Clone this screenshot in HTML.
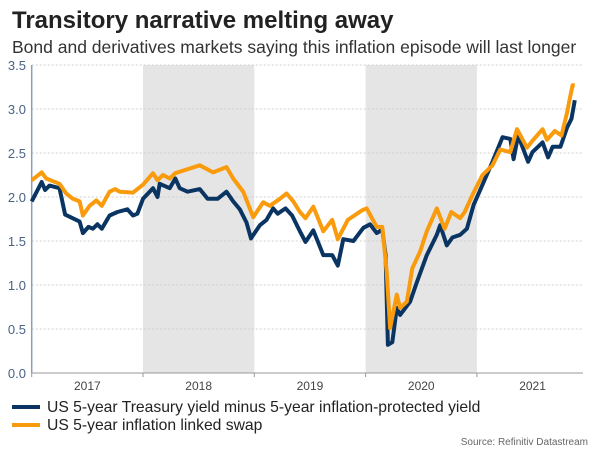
<!DOCTYPE html>
<html><head><meta charset="utf-8"><style>
body{margin:0;background:#fff;font-family:"Liberation Sans",sans-serif}
#c{position:relative;width:600px;height:450px;overflow:hidden}
</style></head><body>
<div id="c">
<svg id="s" width="600" height="450"></svg>
</div>
<script>
const yTicks=[0,0.5,1,1.5,2,2.5,3,3.5];
const yearLabels=["2017","2018","2019","2020","2021"];
const shadedYears=[2018,2020];
const blueDates=[0,.09,.12,.16,.25,.30,.43,.46,.51,.55,.59,.63,.70,.77,.86,.91,.95,1.00,1.09,1.13,1.15,1.24,1.29,1.33,1.40,1.51,1.58,1.67,1.75,1.81,1.87,1.93,1.97,2.05,2.11,2.17,2.21,2.28,2.34,2.41,2.46,2.53,2.62,2.70,2.75,2.80,2.89,2.98,3.04,3.10,3.15,3.18,3.20,3.24,3.28,3.31,3.40,3.46,3.55,3.64,3.67,3.73,3.78,3.85,3.91,3.97,4.05,4.14,4.23,4.30,4.33,4.37,4.46,4.50,4.59,4.64,4.68,4.75,4.81,4.85,4.88];
const blueValues=[1.95,2.17,2.08,2.13,2.10,1.80,1.72,1.59,1.66,1.64,1.69,1.64,1.79,1.83,1.86,1.79,1.81,1.98,2.10,2.00,2.15,2.10,2.21,2.10,2.06,2.09,1.98,1.98,2.06,1.95,1.86,1.71,1.53,1.68,1.74,1.87,1.81,1.87,1.79,1.61,1.49,1.62,1.34,1.34,1.22,1.52,1.50,1.65,1.69,1.59,1.63,1.34,0.32,0.35,0.74,0.66,0.81,1.03,1.34,1.57,1.68,1.45,1.54,1.57,1.64,1.91,2.14,2.40,2.68,2.66,2.43,2.70,2.40,2.51,2.62,2.45,2.57,2.57,2.79,2.89,3.10];
const orangeDates=[0,.09,.13,.25,.31,.37,.43,.46,.52,.58,.63,.70,.75,.79,.91,1.00,1.09,1.13,1.18,1.24,1.29,1.36,1.51,1.63,1.75,1.81,1.90,1.99,2.08,2.14,2.23,2.29,2.35,2.41,2.46,2.53,2.62,2.70,2.75,2.84,2.97,3.01,3.10,3.15,3.19,3.22,3.28,3.31,3.37,3.42,3.49,3.55,3.64,3.71,3.77,3.85,3.89,3.97,4.05,4.14,4.21,4.30,4.36,4.45,4.50,4.59,4.63,4.70,4.76,4.81,4.83,4.86,4.88];
const orangeValues=[2.19,2.28,2.21,2.15,2.04,1.98,1.95,1.79,1.90,1.96,1.90,2.06,2.09,2.06,2.05,2.14,2.27,2.19,2.25,2.21,2.27,2.30,2.36,2.28,2.34,2.21,2.06,1.77,1.94,1.90,1.98,2.04,1.95,1.83,1.76,1.89,1.61,1.74,1.52,1.74,1.85,1.87,1.66,1.66,1.15,0.51,0.89,0.74,0.81,1.19,1.38,1.61,1.87,1.64,1.83,1.76,1.83,2.05,2.25,2.36,2.54,2.51,2.77,2.56,2.64,2.77,2.65,2.75,2.70,2.96,3.09,3.27,3.27];

const NS="http://www.w3.org/2000/svg",svg=document.getElementById('s');
const X0=31.7,YW=111.3,Y0=373,PX=88,XR=583;
const xs=t=>X0+t*YW, ys=v=>Y0-v*PX;
function mk(tag,attrs,txt){const e=document.createElementNS(NS,tag);for(const k in attrs)e.setAttribute(k,attrs[k]);if(txt!=null)e.textContent=txt;svg.appendChild(e);return e;}

let e;
e=mk('text',{x:12,y:28,'font-size':24,'font-weight':'bold',fill:'#222'},'Transitory narrative melting away');


e=mk('text',{x:12,y:53,'font-size':17.5,fill:'#333'},'Bond and derivatives markets saying this inflation episode will last longer');



shadedYears.forEach(yr=>{
  e=mk('rect',{x:xs(yr-2017),y:ys(3.5),width:YW,height:3.5*PX,fill:'#e5e5e5'});
  
  
});
yTicks.forEach(v=>{
  if(v>0){e=mk('line',{x1:X0,x2:XR,y1:ys(v),y2:ys(v),stroke:'#cfcfcf','stroke-dasharray':'2,2','stroke-width':1});
  
  }
  e=mk('text',{x:26,y:ys(v)+5,'text-anchor':'end','font-size':13,fill:'#4a6384'},v.toFixed(1));
  
  
});
e=mk('line',{x1:X0,x2:X0,y1:ys(3.5),y2:Y0,stroke:'#8aa0ba','stroke-width':1.5});


e=mk('line',{x1:X0,x2:XR,y1:Y0,y2:Y0,stroke:'#999','stroke-width':1});


yearLabels.forEach((l,i)=>{
  e=mk('line',{x1:xs(i),x2:xs(i),y1:Y0,y2:Y0+4,stroke:'#999'});
  
  
  e=mk('text',{x:xs(i+0.5),y:Y0+17,'text-anchor':'middle','font-size':12,fill:'#444'},l);
  
  
});
function line(d,v,c,name){
  const pts=d.map((t,i)=>xs(t).toFixed(1)+','+ys(v[i]).toFixed(1)).join(' ');
  const p=mk('polyline',{points:pts,fill:'none',stroke:c,'stroke-width':4,'stroke-linejoin':'round'});
  
  
}
line(blueDates,blueValues,'#0a3562','series-treasury-breakeven');
line(orangeDates,orangeValues,'#f99b0c','series-inflation-swap');

e=mk('line',{x1:12,x2:40,y1:407,y2:407,stroke:'#0a3562','stroke-width':4});


e=mk('text',{x:47,y:412,'font-size':15.7,fill:'#222'},'US 5-year Treasury yield minus 5-year inflation-protected yield');


e=mk('line',{x1:12,x2:40,y1:425,y2:425,stroke:'#f99b0c','stroke-width':4});


e=mk('text',{x:47,y:430,'font-size':15.7,fill:'#222'},'US 5-year inflation linked swap');


e=mk('text',{x:588,y:445,'text-anchor':'end','font-size':10,fill:'#666'},'Source: Refinitiv Datastream');


</script>
</body></html>
